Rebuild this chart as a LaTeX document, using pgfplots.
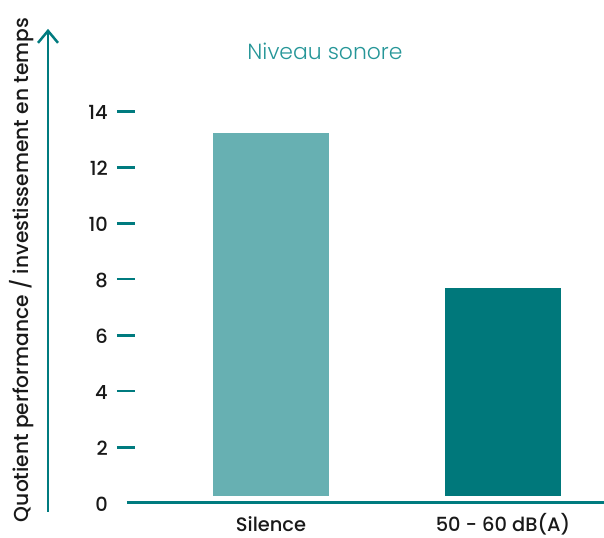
\documentclass[border=0pt]{standalone}
\usepackage{pgfplots}
\pgfplotsset{compat=1.18}
\usepackage{fontspec}
\setmainfont{Poppins}
\newfontfamily\lightfont{Poppins Light}
\newfontfamily\medfont{Poppins Medium}
\usetikzlibrary{arrows.meta}

\definecolor{axcol}{RGB}{0,123,127}
\definecolor{barA}{RGB}{103,176,178}
\definecolor{barB}{RGB}{0,120,123}
\definecolor{titcol}{RGB}{38,150,152}
\definecolor{txt}{RGB}{25,25,25}

\newcommand\tdash{\hspace{9bp}\textcolor{axcol}{\rule[7.05bp]{18bp}{2.5bp}}}
\newcommand\tnodash{\rule{27bp}{0pt}}

\begin{document}
\begin{tikzpicture}
\useasboundingbox (0,0) rectangle (604bp,538bp);
\begin{axis}[
    at={(48bp,26.3bp)}, anchor=south west,
    width=556bp, height=482.8bp, scale only axis,
    xmin=-0.9612, xmax=1.4353,
    ymin=-0.33, ymax=16.93,
    axis line style={draw=none}, clip=false,
    ybar stacked, bar width=0.5,
    xtick={0,1},
    xticklabels={Silence, 50 - 60 dB(A)},
    ytick={0,2,4,6,8,10,12,14},
    yticklabels={0\tnodash, 2\tdash, 4\tdash, 6\tdash, 8\tdash, 10\tdash, 12\tdash, 14\tdash},
    major tick length=0pt,
    tick style={draw=none},
    xtick pos=bottom, ytick pos=left,
    tick label style={font=\medfont\fontsize{19.5}{22}\selectfont, text=txt},
    yticklabel style={anchor=east, inner sep=0pt, xshift=87bp, yshift=-1.8bp},
    xticklabel style={anchor=base, inner sep=0pt, yshift=-19.6bp},
]
% invisible base, the bars start a little above the axis line
\addplot[draw=none, fill=none] coordinates {(0,0.24) (1,0.24)};
\addplot[draw=none, fill=barA] coordinates {(0,12.97) (1,0)};
\addplot[draw=none, fill=barB] coordinates {(0,0) (1,7.44)};

\draw[axcol, line width=2.5bp, -{Straight Barb[length=12bp, width=20bp, line width=2.5bp]}]
    (rel axis cs:0,0) -- (rel axis cs:0,1);
\draw[axcol, line width=2.5bp] (axis cs:-0.6207,0) -- (axis cs:1.4353,0);
\end{axis}
\node[rotate=90, anchor=base, text=txt, font=\medfont\fontsize{20.3}{23}\selectfont]
    at (28bp,268bp) {Quotient performance / investissement en temps};
\node[anchor=base, text=titcol, font=\lightfont\fontsize{22}{25}\selectfont]
    at (325bp,478.7bp) {Niveau sonore};
\end{tikzpicture}
\end{document}
